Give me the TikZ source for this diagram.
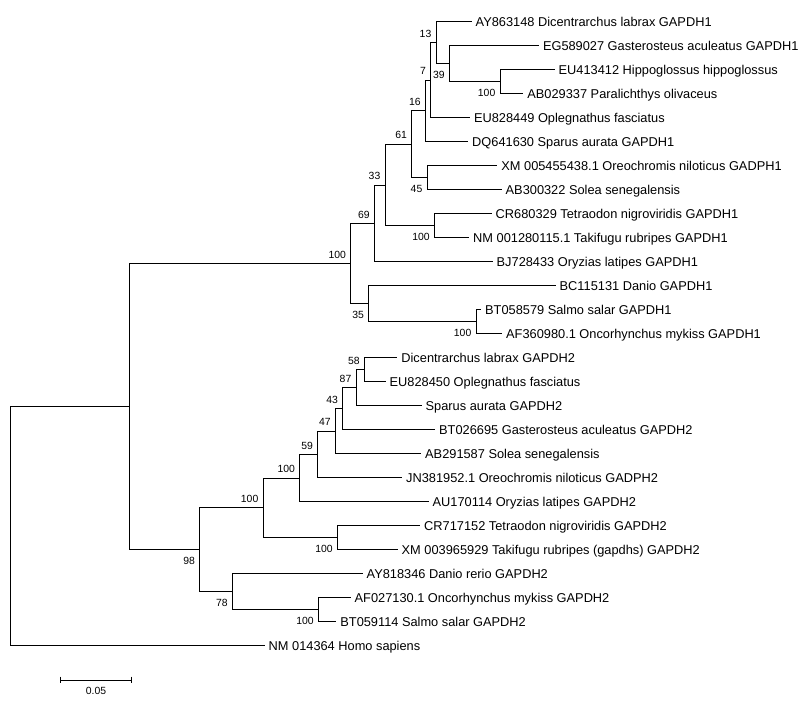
\documentclass[tikz,border=0pt]{standalone}
\usepackage{fontspec}
\setmainfont{Liberation Sans}
\begin{document}
\begin{tikzpicture}[x=1pt,y=-1pt,
  branch/.style={draw=black,line width=1pt,line cap=rect},
  leaflabel/.style={anchor=base west,inner sep=0pt,xshift=4.5pt,yshift=-4.6pt,font=\fontsize{12.8}{14}\selectfont},
  bsup/.style={anchor=base east,inner sep=0pt,xshift=-4.5pt,yshift=5.3pt,font=\fontsize{10.4}{12}\selectfont},
  bsdown/.style={anchor=base east,inner sep=0pt,xshift=-4.5pt,yshift=-14.7pt,font=\fontsize{10.4}{12}\selectfont}]
\useasboundingbox[fill=white] (0,0) rectangle (812,701);
% leaves
\coordinate (L1) at (471,21.7);
\coordinate (L2) at (538.3,45.7);
\coordinate (L3) at (554,69.7);
\coordinate (L4) at (522.7,93.7);
\coordinate (L5) at (469.3,117.7);
\coordinate (L6) at (467.5,141.7);
\coordinate (L7) at (496.7,165.7);
\coordinate (L8) at (501,189.7);
\coordinate (L9) at (491,213.7);
\coordinate (L10) at (468.5,237.7);
\coordinate (L11) at (492,261.7);
\coordinate (L12) at (555,285.7);
\coordinate (L13) at (480.5,309.7);
\coordinate (L14) at (501.5,333.7);
\coordinate (L15) at (396.7,357.7);
\coordinate (L16) at (385,381.7);
\coordinate (L17) at (421,405.7);
\coordinate (L18) at (434.5,429.7);
\coordinate (L19) at (420.5,453.7);
\coordinate (L20) at (401.5,477.7);
\coordinate (L21) at (428,501.7);
\coordinate (L22) at (419.5,525.7);
\coordinate (L23) at (397,549.7);
\coordinate (L24) at (362,573.7);
\coordinate (L25) at (350,597.7);
\coordinate (L26) at (335.7,621.7);
\coordinate (L27) at (264,645.7);
% internal nodes
\coordinate (Nhp) at (500,81.7);
\coordinate (N39) at (449.3,63.7);
\coordinate (N13) at (436,42.7);
\coordinate (N7) at (430.7,80.2);
\coordinate (N16) at (425.3,110.95);
\coordinate (N45) at (427,177.7);
\coordinate (N61) at (411.7,144.3);
\coordinate (Ntt) at (434.3,225.7);
\coordinate (N33) at (385,185);
\coordinate (N69) at (374.3,223.35);
\coordinate (Nso) at (476,321.7);
\coordinate (N35) at (368.7,303.7);
\coordinate (NA) at (350.7,263.5);
\coordinate (N58) at (364.3,369.7);
\coordinate (N87) at (356,387.7);
\coordinate (N43) at (342.7,408.7);
\coordinate (N47) at (335.3,431.2);
\coordinate (N59) at (317.7,454.45);
\coordinate (NB) at (299.7,478.1);
\coordinate (Ntt2) at (337.3,537.7);
\coordinate (NC) at (263,507.9);
\coordinate (Nos2) at (318.3,609.7);
\coordinate (N78) at (232.3,591.7);
\coordinate (N98) at (199.7,549.8);
\coordinate (Ntop) at (129.3,406.65);
\coordinate (Root) at (10.7,526.2);
% branches
\path[branch] (Nhp) |- (L3) (Nhp) |- (L4);
\path[branch] (N39) |- (L2) (N39) |- (Nhp);
\path[branch] (N13) |- (L1) (N13) |- (N39);
\path[branch] (N7) |- (N13) (N7) |- (L5);
\path[branch] (N16) |- (N7) (N16) |- (L6);
\path[branch] (N45) |- (L7) (N45) |- (L8);
\path[branch] (N61) |- (N16) (N61) |- (N45);
\path[branch] (Ntt) |- (L9) (Ntt) |- (L10);
\path[branch] (N33) |- (N61) (N33) |- (Ntt);
\path[branch] (N69) |- (N33) (N69) |- (L11);
\path[branch] (Nso) |- (L13) (Nso) |- (L14);
\path[branch] (N35) |- (L12) (N35) |- (Nso);
\path[branch] (NA) |- (N69) (NA) |- (N35);
\path[branch] (N58) |- (L15) (N58) |- (L16);
\path[branch] (N87) |- (N58) (N87) |- (L17);
\path[branch] (N43) |- (N87) (N43) |- (L18);
\path[branch] (N47) |- (N43) (N47) |- (L19);
\path[branch] (N59) |- (N47) (N59) |- (L20);
\path[branch] (NB) |- (N59) (NB) |- (L21);
\path[branch] (Ntt2) |- (L22) (Ntt2) |- (L23);
\path[branch] (NC) |- (NB) (NC) |- (Ntt2);
\path[branch] (Nos2) |- (L25) (Nos2) |- (L26);
\path[branch] (N78) |- (L24) (N78) |- (Nos2);
\path[branch] (N98) |- (NC) (N98) |- (N78);
\path[branch] (Ntop) |- (NA) (Ntop) |- (N98);
\path[branch] (Root) |- (Ntop) (Root) |- (L27);
% leaf labels
\node[leaflabel] (t1) at (L1) {AY863148 Dicentrarchus labrax GAPDH1};
\node[leaflabel] (t2) at (L2) {EG589027 Gasterosteus aculeatus GAPDH1};
\node[leaflabel] (t3) at (L3) {EU413412 Hippoglossus hippoglossus};
\node[leaflabel] (t4) at (L4) {AB029337 Paralichthys olivaceus};
\node[leaflabel] (t5) at (L5) {EU828449 Oplegnathus fasciatus};
\node[leaflabel] (t6) at (L6) {DQ641630 Sparus aurata GAPDH1};
\node[leaflabel] (t7) at (L7) {XM 005455438.1 Oreochromis niloticus GADPH1};
\node[leaflabel] (t8) at (L8) {AB300322 Solea senegalensis};
\node[leaflabel] (t9) at (L9) {CR680329 Tetraodon nigroviridis GAPDH1};
\node[leaflabel] (t10) at (L10) {NM 001280115.1 Takifugu rubripes GAPDH1};
\node[leaflabel] (t11) at (L11) {BJ728433 Oryzias latipes GAPDH1};
\node[leaflabel] (t12) at (L12) {BC115131 Danio GAPDH1};
\node[leaflabel] (t13) at (L13) {BT058579 Salmo salar GAPDH1};
\node[leaflabel] (t14) at (L14) {AF360980.1 Oncorhynchus mykiss GAPDH1};
\node[leaflabel] (t15) at (L15) {Dicentrarchus labrax GAPDH2};
\node[leaflabel] (t16) at (L16) {EU828450 Oplegnathus fasciatus};
\node[leaflabel] (t17) at (L17) {Sparus aurata GAPDH2};
\node[leaflabel] (t18) at (L18) {BT026695 Gasterosteus aculeatus GAPDH2};
\node[leaflabel] (t19) at (L19) {AB291587 Solea senegalensis};
\node[leaflabel] (t20) at (L20) {JN381952.1 Oreochromis niloticus GADPH2};
\node[leaflabel] (t21) at (L21) {AU170114 Oryzias latipes GAPDH2};
\node[leaflabel] (t22) at (L22) {CR717152 Tetraodon nigroviridis GAPDH2};
\node[leaflabel] (t23) at (L23) {XM 003965929 Takifugu rubripes (gapdhs) GAPDH2};
\node[leaflabel] (t24) at (L24) {AY818346 Danio rerio GAPDH2};
\node[leaflabel] (t25) at (L25) {AF027130.1 Oncorhynchus mykiss GAPDH2};
\node[leaflabel] (t26) at (L26) {BT059114 Salmo salar GAPDH2};
\node[leaflabel] (t27) at (L27) {NM 014364 Homo sapiens};
% bootstrap values
\node[bsup] (b13) at (N13) {13};
\node[bsdown] (b39) at (N39) {39};
\node[bsdown] (bhp) at (Nhp) {100};
\node[bsup] (b7) at (N7) {7};
\node[bsup] (b16) at (N16) {16};
\node[bsup] (b61) at (N61) {61};
\node[bsdown] (b45) at (N45) {45};
\node[bsup] (b33) at (N33) {33};
\node[bsdown] (btt) at (Ntt) {100};
\node[bsup] (b69) at (N69) {69};
\node[bsup] (bA) at (NA) {100};
\node[bsdown] (b35) at (N35) {35};
\node[bsdown] (bso) at (Nso) {100};
\node[bsup] (b58) at (N58) {58};
\node[bsup] (b87) at (N87) {87};
\node[bsup] (b43) at (N43) {43};
\node[bsup] (b47) at (N47) {47};
\node[bsup] (b59) at (N59) {59};
\node[bsup] (bB) at (NB) {100};
\node[bsup] (bC) at (NC) {100};
\node[bsdown] (btt2) at (Ntt2) {100};
\node[bsdown] (b98) at (N98) {98};
\node[bsdown] (b78) at (N78) {78};
\node[bsdown] (bos2) at (Nos2) {100};
% scale bar
\coordinate (S1) at (60.3,680);
\coordinate (S2) at (131.7,680);
\path[branch,line cap=butt] (S1) -- (S2);
\path[branch,line cap=butt] ([yshift=3.4pt]S1) -- ([yshift=-3.4pt]S1);
\path[branch,line cap=butt] ([yshift=3.4pt]S2) -- ([yshift=-3.4pt]S2);
\node[anchor=base,inner sep=0pt,font=\fontsize{10.4}{12}\selectfont] (sl) at (96,694) {0.05};
\end{tikzpicture}
\end{document}
